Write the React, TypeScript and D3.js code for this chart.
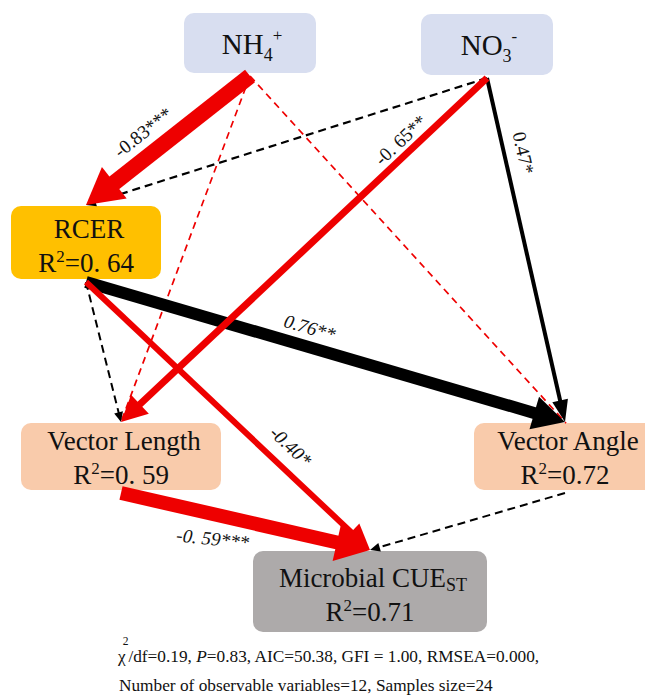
import React from "react";
import * as d3 from "d3";

const W = 645;
const H = 697;
const FONT = "'Liberation Serif', 'Times New Roman', serif";

// Model variables and explained variance
const nodeIds = ["nh4", "no3", "rcer", "vlen", "vang", "cue"];
const nodeR2 = ["", "", "0. 64", "0. 59", "0.72", "0.71"];

// Path coefficients (empty label = non-significant path, drawn dashed)
const pathFrom = ["nh4", "nh4", "nh4", "no3", "no3", "no3", "rcer", "rcer", "rcer", "vlen", "vang"];
const pathTo = ["rcer", "vlen", "vang", "rcer", "vlen", "vang", "vlen", "vang", "cue", "cue", "cue"];
const pathSign = [-1, -1, -1, 1, -1, 1, 1, 1, -1, -1, 1];
const pathLabel = ["-0.83***", "", "", "", "-0. 65**", "0.47*", "", "0.76**", "-0.40*", "-0. 59***", ""];

// Model fit statistics
const fitStats = ["/df=0.19, ", "P", "=0.83, AIC=50.38, GFI = 1.00, RMSEA=0.000,"];
const sampleInfo = "Number of observable variables=12, Samples size=24";

type Box = { x: number; y: number; w: number; h: number; fill: string };

const BLUE = "#d8def0";
const PEACH = "#f9cbab";
const nodeBox: Record<string, Box> = {
  nh4: { x: 184, y: 13, w: 132, h: 60, fill: BLUE },
  no3: { x: 421, y: 14, w: 132, h: 61, fill: BLUE },
  rcer: { x: 11, y: 206, w: 150, h: 73, fill: "#ffc000" },
  vlen: { x: 21, y: 423, w: 200, h: 67, fill: PEACH },
  vang: { x: 474, y: 423, w: 182, h: 67, fill: PEACH },
  cue: { x: 253, y: 551, w: 234, h: 81, fill: "#adaaaa" },
};

// Stroke styling per path: width, arrow head length / width
const pathStyle = [
  { w: 16, hl: 36, hw: 40 },
  { w: 1.7, hl: 0, hw: 0 },
  { w: 1.7, hl: 0, hw: 0 },
  { w: 2.2, hl: 10, hw: 9 },
  { w: 7, hl: 26, hw: 26 },
  { w: 4, hl: 22, hw: 16 },
  { w: 2, hl: 10, hw: 9 },
  { w: 12, hl: 32, hw: 34 },
  { w: 6, hl: 26, hw: 24 },
  { w: 14, hl: 34, hw: 38 },
  { w: 2, hl: 10, hw: 9 },
];

// Label placement along each path: fraction t, perpendicular offset, optional fixed angle, italic
const labelPlace = [
  { t: 0.57, off: 22, italic: false },
  null,
  null,
  null,
  { t: 0.21, off: 14, italic: false },
  { t: 0.23, off: -19, italic: false },
  null,
  { t: 0.456, off: -19, italic: true },
  { t: 0.67, off: -21, italic: true },
  { t: 0.39, off: 24, italic: true, angle: 6 },
  null,
];

const RED = "#ee0000";

function anchorOut(b: Box): [number, number] {
  return [b.x + b.w / 2, b.y + b.h + 3];
}
function anchorIn(b: Box): [number, number] {
  return [b.x + b.w / 2, b.y - 1];
}

function Arrow({ i }: { i: number }) {
  const s = nodeBox[pathFrom[i]];
  const e = nodeBox[pathTo[i]];
  const [x1, y1] = anchorOut(s);
  const [x2, y2] = anchorIn(e);
  const st = pathStyle[i];
  const dashed = pathLabel[i] === "";
  const color = pathSign[i] < 0 ? RED : "#000";
  const dx = x2 - x1;
  const dy = y2 - y1;
  const L = Math.hypot(dx, dy);
  const ux = dx / L;
  const uy = dy / L;
  const nx = -uy;
  const ny = ux;
  const bx = x2 - ux * st.hl;
  const by = y2 - uy * st.hl;
  const shaft = d3.path();
  shaft.moveTo(x1, y1);
  shaft.lineTo(bx + ux * 1.5, by + uy * 1.5);
  const head = d3.path();
  if (st.hl > 0) {
    head.moveTo(x2, y2);
    head.lineTo(bx + (nx * st.hw) / 2, by + (ny * st.hw) / 2);
    head.lineTo(bx - (nx * st.hw) / 2, by - (ny * st.hw) / 2);
    head.closePath();
  }
  return (
    <g>
      <path
        d={shaft.toString()}
        stroke={color}
        strokeWidth={st.w}
        fill="none"
        strokeDasharray={dashed ? (color === RED ? "7,5" : "8,5") : undefined}
      />
      {st.hl > 0 && <path d={head.toString()} fill={color} />}
    </g>
  );
}

function Label({ i }: { i: number }) {
  const p = labelPlace[i];
  if (!p) return null;
  const s = nodeBox[pathFrom[i]];
  const e = nodeBox[pathTo[i]];
  const [x1, y1] = anchorOut(s);
  const [x2, y2] = anchorIn(e);
  const px = d3.interpolateNumber(x1, x2)(p.t);
  const py = d3.interpolateNumber(y1, y2)(p.t);
  const L = Math.hypot(x2 - x1, y2 - y1);
  const ux = (x2 - x1) / L;
  const uy = (y2 - y1) / L;
  const cx = px - uy * p.off;
  const cy = py + ux * p.off;
  let ang = (Math.atan2(uy, ux) * 180) / Math.PI;
  if (ang > 90) ang -= 180;
  if (ang < -90) ang += 180;
  if ((p as any).angle !== undefined) ang = (p as any).angle;
  return (
    <text
      transform={`translate(${cx},${cy}) rotate(${ang})`}
      textAnchor="middle"
      dominantBaseline="central"
      fontSize={19}
      fontStyle={p.italic ? "italic" : "normal"}
      fill="#111"
    >
      {pathLabel[i]}
    </text>
  );
}

function NodeTitle({ id, b }: { id: string; b: Box }) {
  const cx = b.x + b.w / 2;
  if (id === "nh4" || id === "no3") {
    const base = id === "nh4" ? "NH" : "NO";
    const sub = id === "nh4" ? "4" : "3";
    const sup = id === "nh4" ? "+" : "-";
    return (
      <text x={cx + 2} y={b.y + 41} textAnchor="middle" fontSize={29} fill="#111">
        {base}
        <tspan fontSize={18} dy={7}>{sub}</tspan>
        <tspan fontSize={17} dy={-20}>{sup}</tspan>
      </text>
    );
  }
  const r2 = nodeR2[nodeIds.indexOf(id)];
  const top = id === "rcer" ? 32 : id === "cue" ? 36 : 27;
  const gap = 34;
  return (
    <g fill="#111">
      <text x={cx + 3} y={b.y + top} textAnchor="middle" fontSize={27}>
        {id === "rcer" && "RCER"}
        {id === "vlen" && "Vector Length"}
        {id === "vang" && "Vector Angle"}
        {id === "cue" && (
          <>
            Microbial CUE<tspan fontSize={18} dy={4}>ST</tspan>
          </>
        )}
      </text>
      <text x={cx} y={b.y + top + gap} textAnchor="middle" fontSize={27}>
        R<tspan fontSize={17} dy={-10}>2</tspan>
        <tspan dy={10}>={r2}</tspan>
      </text>
    </g>
  );
}

export default function App() {
  const order = d3.range(pathFrom.length);
  const dashedIdx = order.filter((i) => pathLabel[i] === "");
  const solidIdx = [5, 7, 4, 8, 9, 0];
  return (
    <svg
      width={W}
      height={H}
      viewBox={`0 0 ${W} ${H}`}
      style={{ position: "absolute", left: 0, top: 0, background: "#fff", fontFamily: FONT }}
    >
      <rect width={W} height={H} fill="#fff" />
      {nodeIds.map((id) => {
        const b = nodeBox[id];
        return <rect key={id} x={b.x} y={b.y} width={b.w} height={b.h} rx={10} fill={b.fill} />;
      })}
      {nodeIds.map((id) => (
        <NodeTitle key={"t" + id} id={id} b={nodeBox[id]} />
      ))}
      {dashedIdx.map((i) => (
        <Arrow key={"d" + i} i={i} />
      ))}
      {solidIdx.map((i) => (
        <Arrow key={"s" + i} i={i} />
      ))}
      {order.map((i) => (
        <Label key={"l" + i} i={i} />
      ))}
      <text x={118} y={662} fontSize={17.3} fill="#111">
        χ<tspan fontSize={11.5} dx={-3} dy={-17}>2</tspan>
        <tspan dy={17}>{fitStats[0]}</tspan>
        <tspan fontStyle="italic">{fitStats[1]}</tspan>
        <tspan>{fitStats[2]}</tspan>
      </text>
      <text x={119} y={691} fontSize={17.3} fill="#111">
        {sampleInfo}
      </text>
    </svg>
  );
}
